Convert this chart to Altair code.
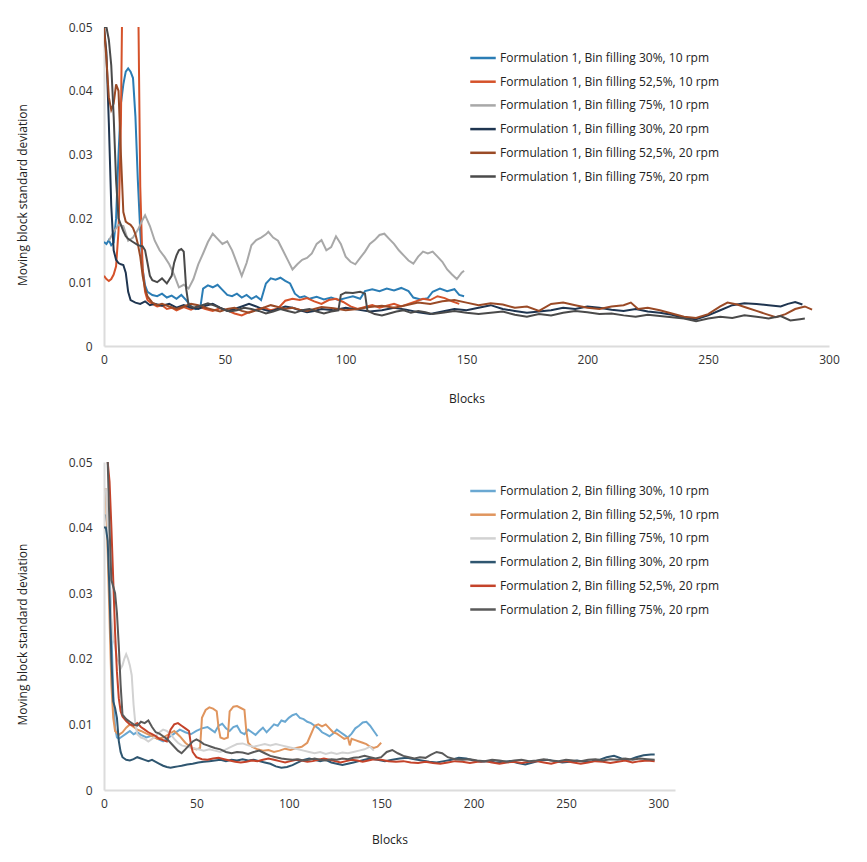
import altair as alt
import pandas as pd

# ---------------- data: top panel (Formulation 1) ----------------
top_names = [
    "Formulation 1, Bin filling 30%, 10 rpm",
    "Formulation 1, Bin filling 52,5%, 10 rpm",
    "Formulation 1, Bin filling 75%, 10 rpm",
    "Formulation 1, Bin filling 30%, 20 rpm",
    "Formulation 1, Bin filling 52,5%, 20 rpm",
    "Formulation 1, Bin filling 75%, 20 rpm",
]
top_colors = ["#2b7db5", "#d5522a", "#a8a8a8", "#1f3550", "#9a4a26", "#4a4a4a"]

t1_x = [0, 1, 2, 3, 4, 5, 6, 7, 8, 9, 10, 11, 12, 13, 14, 15, 16, 17, 18, 20, 22, 24, 26, 28, 30, 32, 34, 36, 38, 40,
        41, 43, 45, 47, 49, 51, 53, 55, 57, 59, 61, 63, 65, 67, 69, 71, 73, 75, 77, 79, 81, 83, 85, 88, 91, 94, 97,
        100, 103, 106, 108, 111, 114, 117, 120, 123, 126, 128, 131, 134, 136, 139, 142, 145, 147, 149]
t1_y = [0.0163, 0.0160, 0.0166, 0.0158, 0.0162, 0.0200, 0.0300, 0.0380, 0.0410, 0.0430, 0.0435, 0.0430, 0.0420,
        0.0360, 0.0260, 0.0180, 0.0120, 0.0095, 0.0085, 0.0080, 0.0078, 0.0082, 0.0076, 0.0079, 0.0074, 0.0080,
        0.0072, 0.0062, 0.0058, 0.0064, 0.0090, 0.0095, 0.0092, 0.0096, 0.0088, 0.0080, 0.0078, 0.0082, 0.0076,
        0.0080, 0.0074, 0.0078, 0.0072, 0.0098, 0.0106, 0.0104, 0.0107, 0.0102, 0.0098, 0.0082, 0.0076, 0.0078,
        0.0074, 0.0077, 0.0073, 0.0076, 0.0072, 0.0075, 0.0078, 0.0074, 0.0086, 0.0089, 0.0086, 0.0090, 0.0087,
        0.0091, 0.0086, 0.0076, 0.0073, 0.0075, 0.0085, 0.0090, 0.0086, 0.0089, 0.0080, 0.0078]

t2_x = [0, 1, 2, 3, 4, 5, 6, 7, 8, 9, 12, 13, 14, 15, 16, 17, 18, 20, 22, 24, 26, 28, 30, 33, 36, 39, 42, 45, 48, 51,
        54, 57, 60, 63, 66, 69, 72, 75, 78, 81, 84, 87, 90, 93, 96, 99, 102, 105, 108, 111, 114, 117, 120, 123,
        126, 129, 132, 135, 138, 141, 144, 147]
t2_y = [0.0110, 0.0105, 0.0102, 0.0105, 0.0112, 0.0125, 0.0180, 0.0350, 0.0700, 0.0800, 0.0800, 0.0800, 0.0600,
        0.0250, 0.0120, 0.0085, 0.0072, 0.0066, 0.0062, 0.0064, 0.0058, 0.0060, 0.0056, 0.0061, 0.0057, 0.0062,
        0.0058, 0.0055, 0.0059, 0.0056, 0.0051, 0.0048, 0.0053, 0.0057, 0.0060, 0.0056, 0.0059, 0.0071, 0.0074,
        0.0072, 0.0075, 0.0070, 0.0066, 0.0072, 0.0074, 0.0069, 0.0062, 0.0058, 0.0061, 0.0064, 0.0060, 0.0063,
        0.0066, 0.0062, 0.0066, 0.0070, 0.0074, 0.0072, 0.0078, 0.0075, 0.0070, 0.0066]

t3_x = [2, 4, 6, 8, 10, 12, 14, 16, 17, 19, 21, 23, 25, 27, 29, 31, 33, 35, 37, 39, 41, 43, 45, 47, 49, 51, 53, 55,
        57, 59, 61, 63, 65, 67, 68, 70, 72, 74, 76, 78, 80, 82, 84, 86, 88, 90, 92, 94, 96, 98, 100, 102, 104, 106,
        108, 110, 112, 114, 116, 118, 120, 122, 124, 126, 128, 130, 132, 134, 136, 138, 140, 142, 144, 146, 148,
        149]
t3_y = [0.0165, 0.0179, 0.0190, 0.0188, 0.0165, 0.0170, 0.0182, 0.0198, 0.0205, 0.0188, 0.0165, 0.0150, 0.0140,
        0.0128, 0.0112, 0.0092, 0.0096, 0.0090, 0.0105, 0.0128, 0.0145, 0.0163, 0.0176, 0.0168, 0.0160, 0.0164,
        0.0150, 0.0130, 0.0110, 0.0130, 0.0158, 0.0166, 0.0170, 0.0175, 0.0179, 0.0170, 0.0165, 0.0150, 0.0135,
        0.0120, 0.0128, 0.0135, 0.0138, 0.0145, 0.0160, 0.0166, 0.0150, 0.0155, 0.0172, 0.0160, 0.0140, 0.0132,
        0.0128, 0.0138, 0.0148, 0.0160, 0.0166, 0.0174, 0.0176, 0.0168, 0.0160, 0.0150, 0.0142, 0.0134, 0.0129,
        0.0140, 0.0148, 0.0145, 0.0148, 0.0140, 0.0132, 0.0120, 0.0112, 0.0105, 0.0115, 0.0118]

t4_x = [0, 1, 2, 3, 4, 5, 6, 7, 8, 9, 10, 11, 13, 15, 17, 19, 21, 24, 27, 30, 33, 36, 39, 42, 45, 48, 51, 54, 57, 60,
        63, 66, 69, 72, 75, 78, 81, 84, 87, 90, 95, 100, 105, 110, 115, 120, 125, 130, 135, 140, 145, 150, 155,
        160, 165, 170, 175, 180, 185, 190, 195, 200, 205, 210, 215, 220, 225, 230, 235, 240, 245, 250, 255, 260,
        265, 270, 275, 280, 283, 286, 289]
t4_y = [0.0500, 0.0460, 0.0350, 0.0220, 0.0150, 0.0135, 0.0130, 0.0128, 0.0127, 0.0115, 0.0085, 0.0072, 0.0068,
        0.0066, 0.0070, 0.0064, 0.0066, 0.0063, 0.0066, 0.0060, 0.0064, 0.0060, 0.0058, 0.0063, 0.0066, 0.0060,
        0.0055, 0.0058, 0.0062, 0.0066, 0.0062, 0.0057, 0.0054, 0.0058, 0.0062, 0.0060, 0.0056, 0.0053, 0.0055,
        0.0058, 0.0056, 0.0060, 0.0057, 0.0054, 0.0056, 0.0060, 0.0057, 0.0053, 0.0050, 0.0054, 0.0058, 0.0056,
        0.0060, 0.0064, 0.0058, 0.0055, 0.0052, 0.0054, 0.0056, 0.0060, 0.0058, 0.0062, 0.0060, 0.0057, 0.0055,
        0.0058, 0.0054, 0.0052, 0.0049, 0.0044, 0.0042, 0.0048, 0.0056, 0.0064, 0.0067, 0.0066, 0.0064, 0.0062,
        0.0066, 0.0069, 0.0065]

t5_x = [0, 1, 2, 3, 4, 5, 6, 7, 8, 9, 10, 11, 12, 13, 14, 15, 16, 17, 18, 20, 22, 24, 27, 30, 33, 36, 39, 42, 45, 48,
        51, 54, 57, 60, 63, 66, 69, 72, 75, 78, 81, 84, 87, 90, 95, 100, 105, 110, 115, 120, 125, 130, 135, 140,
        145, 150, 155, 160, 165, 170, 175, 180, 185, 190, 195, 200, 205, 210, 215, 218, 221, 225, 230, 235, 240,
        245, 250, 255, 258, 262, 266, 270, 274, 278, 282, 286, 290, 293]
t5_y = [0.0500, 0.0450, 0.0390, 0.0370, 0.0380, 0.0410, 0.0400, 0.0300, 0.0210, 0.0195, 0.0192, 0.0190, 0.0185,
        0.0175, 0.0160, 0.0140, 0.0110, 0.0090, 0.0078, 0.0068, 0.0064, 0.0066, 0.0062, 0.0058, 0.0062, 0.0066,
        0.0064, 0.0060, 0.0057, 0.0054, 0.0058, 0.0060, 0.0055, 0.0052, 0.0056, 0.0060, 0.0064, 0.0061, 0.0058,
        0.0060, 0.0057, 0.0055, 0.0058, 0.0061, 0.0059, 0.0056, 0.0058, 0.0061, 0.0063, 0.0060, 0.0064, 0.0068,
        0.0066, 0.0070, 0.0072, 0.0068, 0.0064, 0.0067, 0.0065, 0.0060, 0.0062, 0.0055, 0.0066, 0.0068, 0.0064,
        0.0060, 0.0058, 0.0062, 0.0064, 0.0068, 0.0058, 0.0060, 0.0056, 0.0051, 0.0046, 0.0044, 0.0050, 0.0062,
        0.0068, 0.0065, 0.0060, 0.0055, 0.0050, 0.0045, 0.0050, 0.0058, 0.0062, 0.0057]

t6_x = [0, 1, 2, 3, 4, 5, 6, 7, 8, 9, 10, 12, 14, 16, 17, 18, 19, 20, 22, 24, 26, 28, 29, 30, 31, 32, 33, 34, 35, 37,
        40, 43, 46, 49, 52, 55, 58, 61, 64, 67, 70, 73, 76, 79, 82, 85, 88, 91, 94, 97, 98, 100, 103, 106, 108,
        109, 112, 115, 118, 121, 124, 127, 130, 133, 136, 140, 145, 150, 155, 160, 165, 170, 175, 180, 185, 190,
        195, 200, 205, 210, 215, 220, 225, 230, 235, 240, 245, 250, 255, 260, 265, 270, 275, 280, 284, 288, 290]
t6_y = [0.0500, 0.0500, 0.0480, 0.0440, 0.0360, 0.0260, 0.0200, 0.0190, 0.0180, 0.0172, 0.0168, 0.0163, 0.0158,
        0.0156, 0.0150, 0.0130, 0.0110, 0.0103, 0.0100, 0.0106, 0.0098, 0.0110, 0.0130, 0.0142, 0.0150, 0.0152,
        0.0148, 0.0090, 0.0064, 0.0060, 0.0063, 0.0067, 0.0063, 0.0058, 0.0054, 0.0056, 0.0060, 0.0058, 0.0055,
        0.0051, 0.0054, 0.0058, 0.0055, 0.0052, 0.0056, 0.0058, 0.0054, 0.0051, 0.0054, 0.0056, 0.0080, 0.0084,
        0.0083, 0.0085, 0.0082, 0.0055, 0.0050, 0.0048, 0.0051, 0.0054, 0.0056, 0.0052, 0.0055, 0.0053, 0.0050,
        0.0052, 0.0055, 0.0052, 0.0050, 0.0052, 0.0054, 0.0049, 0.0046, 0.0050, 0.0048, 0.0052, 0.0055, 0.0053,
        0.0050, 0.0051, 0.0048, 0.0046, 0.0049, 0.0047, 0.0045, 0.0043, 0.0039, 0.0043, 0.0046, 0.0044, 0.0048,
        0.0046, 0.0043, 0.0047, 0.0040, 0.0042, 0.0043]

# ---------------- data: bottom panel (Formulation 2) ----------------
bottom_names = [
    "Formulation 2, Bin filling 30%, 10 rpm",
    "Formulation 2, Bin filling 52,5%, 10 rpm",
    "Formulation 2, Bin filling 75%, 10 rpm",
    "Formulation 2, Bin filling 30%, 20 rpm",
    "Formulation 2, Bin filling 52,5%, 20 rpm",
    "Formulation 2, Bin filling 75%, 20 rpm",
]
bottom_colors = ["#6aa8d2", "#e0955e", "#d2d2d2", "#2f5670", "#c4432a", "#5a5a5a"]

b1_x = [1, 2, 3, 4, 5, 6, 7, 8, 10, 12, 14, 16, 18, 20, 23, 26, 29, 32, 35, 38, 41, 44, 47, 50, 53, 56, 58, 60, 62,
        64, 66, 68, 70, 72, 74, 76, 78, 80, 82, 84, 86, 88, 90, 92, 94, 96, 98, 100, 102, 104, 106, 108, 110, 112,
        114, 116, 118, 120, 122, 124, 126, 128, 130, 132, 134, 136, 138, 140, 142, 144, 146, 148]
b1_y = [0.0420, 0.0400, 0.0340, 0.0240, 0.0150, 0.0095, 0.0080, 0.0078, 0.0082, 0.0086, 0.0090, 0.0085, 0.0088,
        0.0084, 0.0080, 0.0083, 0.0078, 0.0074, 0.0080, 0.0086, 0.0092, 0.0088, 0.0085, 0.0090, 0.0094, 0.0096,
        0.0092, 0.0088, 0.0098, 0.0101, 0.0094, 0.0090, 0.0096, 0.0098, 0.0088, 0.0085, 0.0092, 0.0088, 0.0084,
        0.0090, 0.0095, 0.0088, 0.0094, 0.0100, 0.0098, 0.0106, 0.0104, 0.0110, 0.0114, 0.0116, 0.0110, 0.0108,
        0.0104, 0.0102, 0.0098, 0.0094, 0.0088, 0.0085, 0.0082, 0.0086, 0.0092, 0.0088, 0.0084, 0.0080, 0.0086,
        0.0094, 0.0098, 0.0103, 0.0104, 0.0098, 0.0090, 0.0082]

b2_x = [1, 2, 3, 4, 5, 6, 8, 10, 12, 14, 16, 18, 20, 23, 26, 29, 32, 35, 38, 41, 44, 47, 50, 52, 53, 55, 57, 59, 61,
        62, 63, 65, 67, 68, 70, 72, 74, 76, 77, 78, 80, 83, 86, 89, 92, 95, 98, 101, 104, 107, 110, 112, 114, 116,
        118, 120, 122, 124, 126, 128, 130, 132, 133, 134, 136, 138, 140, 142, 144, 146, 148, 150]
b2_y = [0.0460, 0.0360, 0.0260, 0.0160, 0.0110, 0.0090, 0.0084, 0.0088, 0.0095, 0.0100, 0.0096, 0.0092, 0.0090,
        0.0086, 0.0082, 0.0078, 0.0080, 0.0085, 0.0090, 0.0082, 0.0072, 0.0065, 0.0062, 0.0064, 0.0110, 0.0122,
        0.0126, 0.0124, 0.0120, 0.0095, 0.0080, 0.0078, 0.0080, 0.0120, 0.0127, 0.0128, 0.0125, 0.0122, 0.0090,
        0.0072, 0.0066, 0.0062, 0.0060, 0.0061, 0.0058, 0.0060, 0.0063, 0.0061, 0.0064, 0.0066, 0.0072, 0.0085,
        0.0098, 0.0100, 0.0097, 0.0100, 0.0094, 0.0088, 0.0086, 0.0082, 0.0078, 0.0080, 0.0068, 0.0078, 0.0076,
        0.0074, 0.0072, 0.0070, 0.0066, 0.0064, 0.0066, 0.0072]

b3_x = [1, 2, 3, 4, 5, 6, 7, 8, 9, 10, 11, 12, 13, 14, 15, 16, 17, 18, 20, 22, 24, 26, 28, 30, 32, 34, 36, 38, 40, 42,
        45, 48, 51, 54, 57, 60, 63, 66, 69, 72, 75, 78, 81, 84, 87, 90, 93, 96, 99, 102, 105, 108, 111, 114, 117,
        120, 123, 126, 129, 132, 135, 138, 141, 144, 146]
b3_y = [0.0460, 0.0400, 0.0320, 0.0260, 0.0230, 0.0220, 0.0200, 0.0195, 0.0185, 0.0190, 0.0200, 0.0207, 0.0200,
        0.0190, 0.0175, 0.0130, 0.0100, 0.0085, 0.0080, 0.0078, 0.0074, 0.0078, 0.0082, 0.0088, 0.0092, 0.0090,
        0.0085, 0.0078, 0.0072, 0.0068, 0.0066, 0.0064, 0.0062, 0.0060, 0.0062, 0.0060, 0.0058, 0.0062, 0.0066,
        0.0070, 0.0071, 0.0068, 0.0066, 0.0068, 0.0070, 0.0068, 0.0070, 0.0068, 0.0066, 0.0064, 0.0062, 0.0060,
        0.0058, 0.0056, 0.0058, 0.0055, 0.0057, 0.0055, 0.0057, 0.0056, 0.0058, 0.0060, 0.0062, 0.0066, 0.0060]

b4_x = [0, 1, 2, 3, 4, 5, 6, 7, 8, 9, 10, 12, 14, 16, 18, 20, 22, 24, 26, 28, 30, 32, 34, 36, 38, 40, 42, 45, 48, 51,
        54, 57, 60, 63, 66, 69, 72, 75, 78, 81, 84, 87, 90, 93, 96, 99, 102, 105, 108, 111, 114, 117, 120, 123,
        126, 129, 132, 135, 138, 141, 144, 148, 152, 156, 160, 164, 168, 172, 176, 180, 184, 188, 192, 196, 200,
        204, 208, 212, 216, 220, 224, 228, 232, 236, 240, 244, 248, 252, 256, 260, 264, 268, 272, 276, 280, 284,
        288, 292, 296, 298]
b4_y = [0.0400, 0.0400, 0.0380, 0.0300, 0.0200, 0.0135, 0.0125, 0.0110, 0.0075, 0.0058, 0.0050, 0.0046, 0.0045,
        0.0047, 0.0050, 0.0048, 0.0046, 0.0044, 0.0046, 0.0043, 0.0040, 0.0037, 0.0035, 0.0034, 0.0035, 0.0036,
        0.0037, 0.0039, 0.0040, 0.0042, 0.0043, 0.0044, 0.0045, 0.0046, 0.0044, 0.0046, 0.0045, 0.0047, 0.0045,
        0.0046, 0.0044, 0.0042, 0.0040, 0.0036, 0.0034, 0.0035, 0.0038, 0.0042, 0.0046, 0.0048, 0.0046, 0.0044,
        0.0046, 0.0042, 0.0040, 0.0038, 0.0040, 0.0042, 0.0044, 0.0046, 0.0048, 0.0046, 0.0044, 0.0046, 0.0048,
        0.0049, 0.0047, 0.0045, 0.0043, 0.0042, 0.0044, 0.0046, 0.0049, 0.0048, 0.0045, 0.0043, 0.0044, 0.0042,
        0.0043, 0.0044, 0.0041, 0.0039, 0.0042, 0.0045, 0.0046, 0.0044, 0.0042, 0.0043, 0.0045, 0.0043, 0.0044,
        0.0046, 0.0050, 0.0052, 0.0048, 0.0046, 0.0050, 0.0053, 0.0054, 0.0054]

b5_x = [2, 3, 4, 5, 6, 7, 8, 9, 10, 12, 14, 16, 18, 20, 22, 24, 26, 28, 30, 32, 34, 36, 38, 40, 42, 44, 46, 47, 48,
        50, 53, 56, 59, 62, 65, 68, 71, 74, 77, 80, 83, 86, 89, 92, 95, 98, 101, 104, 107, 110, 113, 116, 119,
        122, 125, 128, 131, 134, 137, 140, 143, 146, 150, 154, 158, 162, 166, 170, 174, 178, 182, 186, 190, 194,
        198, 202, 206, 210, 214, 218, 222, 226, 230, 234, 238, 242, 246, 250, 254, 258, 262, 266, 270, 274, 278,
        282, 286, 290, 294, 298]
b5_y = [0.0500, 0.0470, 0.0400, 0.0320, 0.0240, 0.0180, 0.0140, 0.0120, 0.0112, 0.0105, 0.0100, 0.0098, 0.0102,
        0.0096, 0.0092, 0.0088, 0.0085, 0.0082, 0.0078, 0.0076, 0.0074, 0.0092, 0.0100, 0.0102, 0.0098, 0.0094,
        0.0090, 0.0070, 0.0058, 0.0050, 0.0047, 0.0046, 0.0048, 0.0049, 0.0047, 0.0045, 0.0043, 0.0042, 0.0043,
        0.0045, 0.0044, 0.0046, 0.0048, 0.0046, 0.0044, 0.0042, 0.0044, 0.0046, 0.0045, 0.0043, 0.0044, 0.0046,
        0.0048, 0.0046, 0.0044, 0.0042, 0.0044, 0.0046, 0.0045, 0.0043, 0.0045, 0.0047, 0.0046, 0.0044, 0.0043,
        0.0044, 0.0042, 0.0041, 0.0043, 0.0041, 0.0040, 0.0042, 0.0044, 0.0043, 0.0041, 0.0043, 0.0044, 0.0042,
        0.0040, 0.0042, 0.0043, 0.0041, 0.0043, 0.0044, 0.0042, 0.0040, 0.0043, 0.0044, 0.0042, 0.0040, 0.0042,
        0.0044, 0.0043, 0.0041, 0.0043, 0.0045, 0.0042, 0.0044, 0.0045, 0.0044]

b6_x = [2, 3, 4, 5, 6, 7, 8, 9, 10, 12, 14, 16, 18, 20, 22, 24, 26, 28, 30, 32, 34, 36, 38, 40, 42, 44, 46, 48, 50,
        52, 54, 56, 58, 60, 63, 66, 69, 72, 75, 78, 81, 84, 87, 90, 93, 96, 99, 102, 105, 108, 111, 114, 117, 120,
        123, 126, 129, 132, 135, 138, 141, 144, 147, 150, 153, 156, 159, 162, 165, 168, 171, 174, 177, 180, 183,
        186, 190, 194, 198, 202, 206, 210, 214, 218, 222, 226, 230, 234, 238, 242, 246, 250, 254, 258, 262, 266,
        270, 274, 278, 282, 286, 290, 294, 298]
b6_y = [0.0500, 0.0400, 0.0320, 0.0310, 0.0300, 0.0270, 0.0220, 0.0160, 0.0115, 0.0108, 0.0104, 0.0100, 0.0098,
        0.0104, 0.0102, 0.0106, 0.0096, 0.0088, 0.0086, 0.0082, 0.0078, 0.0072, 0.0066, 0.0060, 0.0056, 0.0062,
        0.0068, 0.0074, 0.0077, 0.0074, 0.0070, 0.0068, 0.0066, 0.0064, 0.0062, 0.0058, 0.0056, 0.0058, 0.0057,
        0.0055, 0.0058, 0.0060, 0.0056, 0.0052, 0.0050, 0.0048, 0.0047, 0.0046, 0.0047, 0.0045, 0.0046, 0.0048,
        0.0046, 0.0045, 0.0047, 0.0046, 0.0048, 0.0047, 0.0049, 0.0050, 0.0052, 0.0050, 0.0048, 0.0050, 0.0058,
        0.0061, 0.0056, 0.0052, 0.0050, 0.0048, 0.0050, 0.0049, 0.0054, 0.0058, 0.0056, 0.0050, 0.0047, 0.0046,
        0.0047, 0.0045, 0.0044, 0.0046, 0.0045, 0.0043, 0.0045, 0.0046, 0.0044, 0.0045, 0.0047, 0.0045, 0.0044,
        0.0046, 0.0045, 0.0044, 0.0046, 0.0047, 0.0045, 0.0047, 0.0046, 0.0048, 0.0046, 0.0048, 0.0047, 0.0046]

x_ticks = [0, 50, 100, 150, 200, 250, 300]
y_ticks = [0, 0.01, 0.02, 0.03, 0.04, 0.05]

FONT = "Open Sans"


def build(names, xs, ys):
    rows = []
    for k, (n, xx, yy) in enumerate(zip(names, xs, ys)):
        for a, b in zip(xx, yy):
            rows.append({"series": n, "order": k, "block": a, "value": b})
    return pd.DataFrame(rows)


def panel(df, names, colors, width, height, xmax, legend_y, x_title_pad):
    return alt.Chart(df).mark_line(strokeWidth=2, clip=True).encode(
        x=alt.X("block:Q",
                scale=alt.Scale(domain=[0, xmax], nice=False, zero=True),
                axis=alt.Axis(values=x_ticks, title="Blocks", labelPadding=8, titlePadding=x_title_pad,
                              grid=False, ticks=False, labelFlush=False)),
        y=alt.Y("value:Q",
                scale=alt.Scale(domain=[0, 0.05], nice=False),
                axis=alt.Axis(values=y_ticks, title="Moving block standard deviation",
                              labelExpr="datum.value == 0 ? '0' : format(datum.value, '.2f')",
                              labelPadding=12, titlePadding=39, grid=False, ticks=False,
                              labelFlush=False, titleY=height / 2 + 8)),
        color=alt.Color("series:N",
                        scale=alt.Scale(domain=names, range=colors),
                        legend=alt.Legend(orient="none", legendX=365, legendY=legend_y, title=None,
                                          symbolType="stroke", symbolStrokeWidth=2.5, symbolSize=650,
                                          labelFontSize=12, labelFont=FONT, labelColor="#222222",
                                          labelOffset=3, rowPadding=3.7, labelLimit=400)),
        detail="series:N",
        order=alt.Order("order:Q"),
    ).properties(width=width, height=height)


top = panel(build(top_names, [t1_x, t2_x, t3_x, t4_x, t5_x, t6_x], [t1_y, t2_y, t3_y, t4_y, t5_y, t6_y]),
            top_names, top_colors, 725, 319, 300, 17, 28)
bottom = panel(build(bottom_names, [b1_x, b2_x, b3_x, b4_x, b5_x, b6_x], [b1_y, b2_y, b3_y, b4_y, b5_y, b6_y]),
               bottom_names, bottom_colors, 571, 328, 309, 15, 25)

chart = alt.vconcat(top, bottom, spacing=52).resolve_scale(color="independent").resolve_legend(
    color="independent"
).properties(
    padding={"left": 8, "top": 13, "right": 5, "bottom": 5},
    background="white",
).configure_view(strokeWidth=0).configure_axis(
    grid=False, ticks=False, domainColor="#dcdcdc", domainWidth=2,
    labelFont=FONT, labelFontSize=12, labelColor="#333333",
    titleFont=FONT, titleFontSize=12, titleFontWeight="normal", titleColor="#222222",
)

chart.save("out.html", embed_options={"renderer": "svg", "actions": False})
